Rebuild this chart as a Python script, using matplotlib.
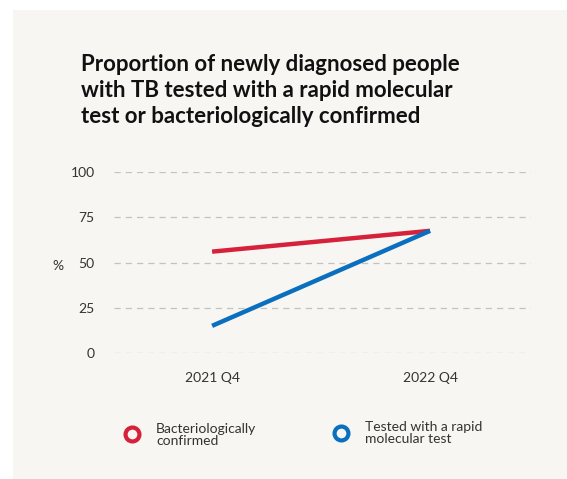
import matplotlib.pyplot as plt
from matplotlib.patches import Rectangle

categories = ["2021 Q4", "2022 Q4"]
bacterio = [56, 67.5]
rapid = [15, 67.5]
y_ticks = [0, 25, 50, 75, 100]

red = "#d6213b"
blue = "#0a6fbf"
bg = "#f8f6f2"

plt.rcParams["font.family"] = ["Lato", "DejaVu Sans"]

W, H = 567, 479
fig = plt.figure(figsize=(W / 100, H / 100), dpi=100)
fig.patch.set_facecolor("white")
fig.patches.append(Rectangle((13 / W, 0), 1 - 13 / W, 1 - 10 / H,
                             transform=fig.transFigure, facecolor=bg,
                             edgecolor="none", zorder=-5))

# axes area: x 114..531 px, y 172..353 px
ax = fig.add_axes([114 / W, 1 - 353 / H, (531 - 114) / W, (353 - 172) / H])
ax.set_facecolor("none")
x = list(range(len(categories)))
ax.plot(x, bacterio, color=red, lw=3.2, solid_capstyle="butt", zorder=3)
ax.plot(x, rapid, color=blue, lw=3.2, solid_capstyle="butt", zorder=3)

ax.set_xlim(-0.45, 1.463)
ax.set_ylim(0, 100)
ax.set_yticks(y_ticks)
ax.set_xticks(x)
ax.set_xticklabels(categories)
for y in y_ticks:
    ax.axhline(y, color="#c4c2bf", lw=0.9, ls=(0, (5, 4)), zorder=1)
for s in ax.spines.values():
    s.set_visible(False)
ax.tick_params(length=0, labelsize=10, colors="#333333")
ax.tick_params(axis="y", pad=14)
ax.tick_params(axis="x", pad=14)
fig.text(58 / W, 1 - 266 / H, "%", fontsize=10, color="#333333",
         ha="center", va="center")

fig.text(81 / W, 1 - 54 / H,
         "Proportion of newly diagnosed people\nwith TB tested with a rapid molecular\ntest or bacteriologically confirmed",
         fontsize=16, fontweight="bold", color="#111111", ha="left", va="top",
         linespacing=1.3)

# legend
fig.lines.append(plt.Line2D([132 / W], [1 - 434 / H], marker="o", markersize=10,
                            markerfacecolor="none", markeredgecolor=red,
                            markeredgewidth=3, transform=fig.transFigure))
fig.text(156 / W, 1 - 435 / H, "Bacteriologically\nconfirmed", fontsize=10,
         color="#333333", ha="left", va="center", linespacing=0.95)
fig.lines.append(plt.Line2D([341 / W], [1 - 433 / H], marker="o", markersize=10,
                            markerfacecolor="none", markeredgecolor=blue,
                            markeredgewidth=3, transform=fig.transFigure))
fig.text(365 / W, 1 - 433 / H, "Tested with a rapid\nmolecular test", fontsize=10,
         color="#333333", ha="left", va="center", linespacing=0.95)

fig.savefig("out.png", dpi=100)
